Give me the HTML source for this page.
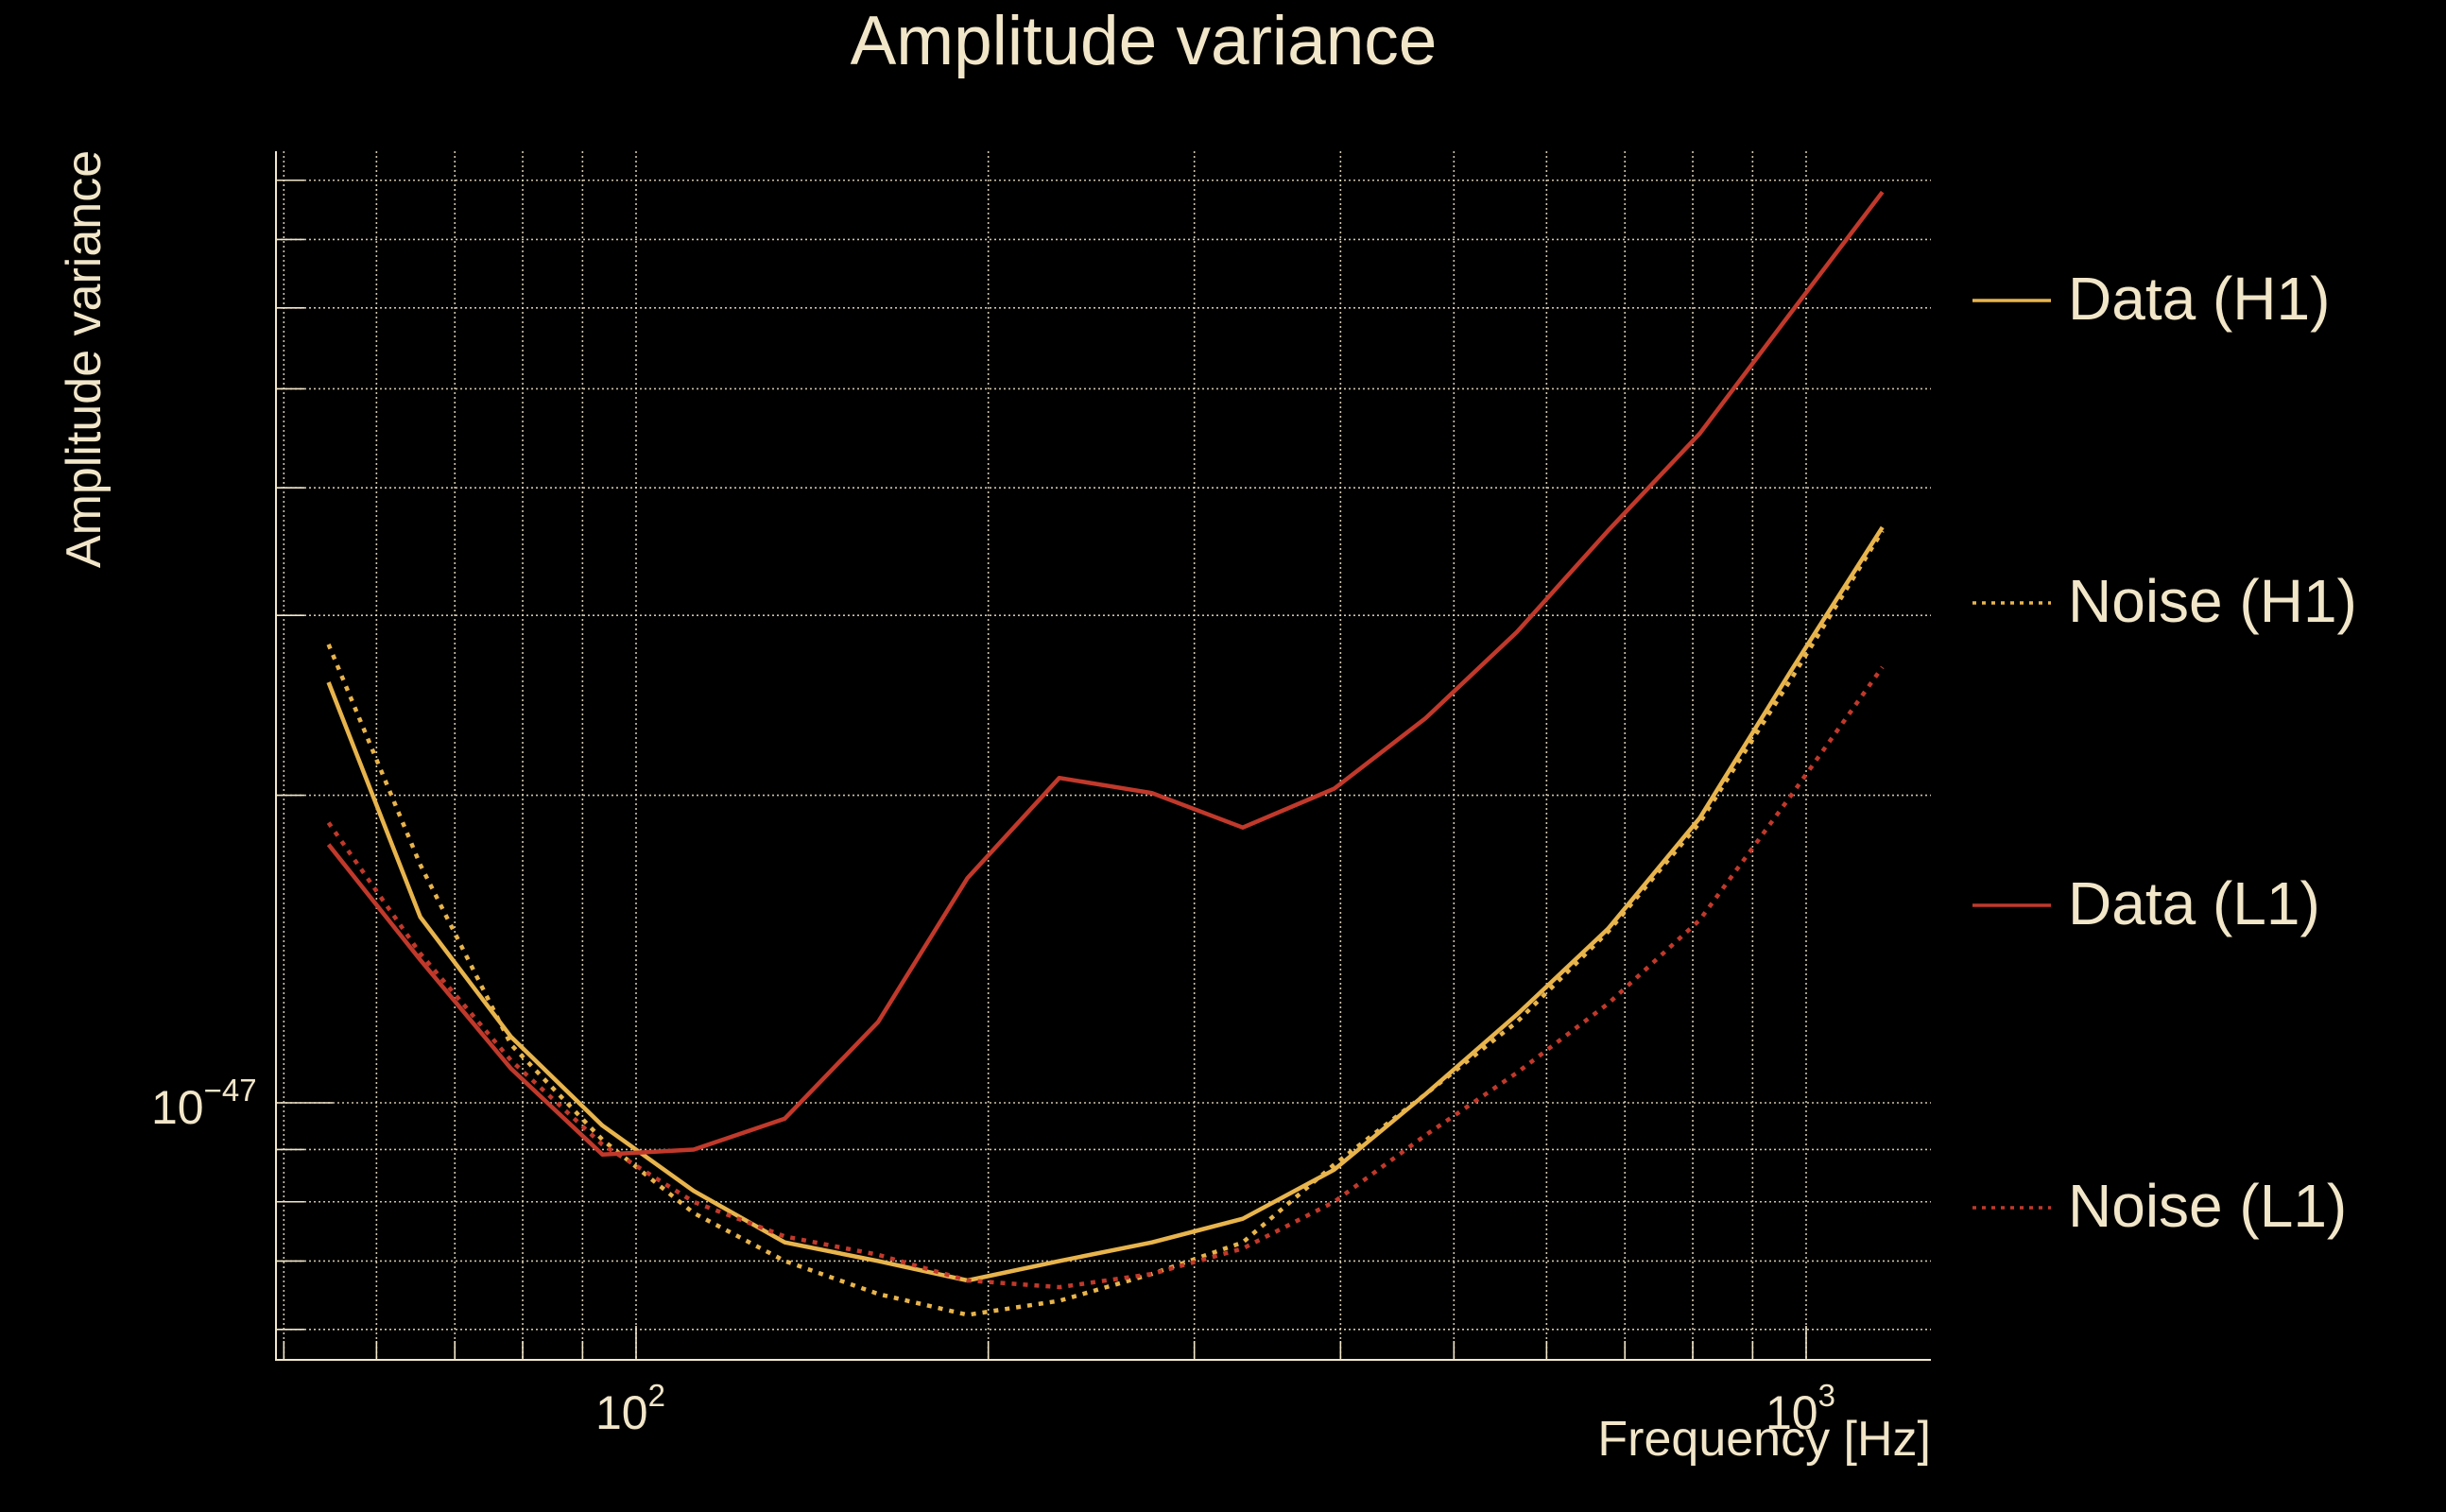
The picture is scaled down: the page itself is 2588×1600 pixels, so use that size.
<!DOCTYPE html>
<html><head><meta charset="utf-8">
<style>
html,body{margin:0;padding:0;background:#000;}
svg{display:block;}
text{font-family:"Liberation Sans",sans-serif;fill:#f2e6c9;}
</style></head>
<body>
<svg id="chart" width="2588" height="1600" viewBox="0 0 2588 1600" xmlns="http://www.w3.org/2000/svg">
<rect width="2588" height="1600" fill="#000"/>
<text x="1210" y="68" font-size="73" text-anchor="middle">Amplitude variance</text>
<text x="0" y="0" font-size="52" text-anchor="middle" transform="translate(106,380) rotate(-90)">Amplitude variance</text>
<text x="2043" y="1540" font-size="52" text-anchor="end">Frequency [Hz]</text>
<g id="grid"></g>
<g id="series"></g>
<g id="legend"></g>
</svg>
<script>
const freqs = [54.6, 65.4, 78.2, 93.6, 112, 134, 161, 192, 230, 276, 330, 395, 473, 566, 677, 811, 971, 1162];
const dataH1 = [25.8, 15.2, 11.6, 9.5, 8.2, 7.3, 7.0, 6.7, 7.0, 7.3, 7.7, 8.6, 10.2, 12.2, 14.8, 19.0, 26.5, 36.6];
const noiseH1 = [28.1, 17.1, 11.4, 9.2, 7.8, 7.0, 6.5, 6.2, 6.4, 6.8, 7.3, 8.7, 10.2, 12.0, 14.7, 18.8, 26.0, 36.3];
const dataL1 = [17.9, 13.8, 10.8, 8.9, 9.0, 9.65, 12.0, 16.6, 20.8, 20.1, 18.6, 20.3, 23.8, 28.9, 36.3, 45.2, 59.4, 77.9];
const noiseL1 = [18.8, 14.0, 11.0, 9.1, 8.0, 7.4, 7.1, 6.7, 6.6, 6.8, 7.2, 8.0, 9.3, 10.7, 12.5, 15.1, 20.0, 26.7];
const valueScale = 1e-48;
const xGridFreqs = [50, 60, 70, 80, 90, 100, 200, 300, 400, 500, 600, 700, 800, 900, 1000];
const yGridVals = [6e-48, 7e-48, 8e-48, 9e-48, 1e-47, 2e-47, 3e-47, 4e-47, 5e-47, 6e-47, 7e-47, 8e-47];
const xTickLabels = [{v:100, t:"2"}, {v:1000, t:"3"}];
const yTickLabels = [{v:1e-47, t:"\u221247"}];
const seriesNames = ["Data (H1)", "Noise (H1)", "Data (L1)", "Noise (L1)"];

const L=292, R=2043, T=160, B=1439;
const X0=673, XDEC=1238, Y0=1167, YDEC=1081;
function xs(f){ return X0 + XDEC*Math.log10(f/100); }
function ys(v){ return Y0 - YDEC*Math.log10(v/1e-47); }
const NS="http://www.w3.org/2000/svg";
function mk(tag, attrs, parent){ const e=document.createElementNS(NS,tag); for(const k in attrs) e.setAttribute(k, attrs[k]); parent.appendChild(e); return e; }

const grid=document.getElementById('grid');
const cream="#f2e6c9";
xGridFreqs.forEach(f=>{
  const x=xs(f);
  const g=mk('line',{x1:x,x2:x,y1:T,y2:B,stroke:cream,'stroke-width':1.6,'stroke-dasharray':'2 3','opacity':0.85},grid);
  
  
  const t=mk('line',{x1:x,x2:x,y1:B,y2:B-(f===100||f===1000?36:20),stroke:cream,'stroke-width':1.6},grid);
  
  
});
yGridVals.forEach(v=>{
  const y=ys(v);
  const g=mk('line',{x1:L,x2:R,y1:y,y2:y,stroke:cream,'stroke-width':1.6,'stroke-dasharray':'2 3','opacity':0.85},grid);
  
  
  const major=Math.abs(Math.log10(v)-Math.round(Math.log10(v)))<1e-6;
  const t=mk('line',{x1:L,x2:L+(major?60:30),y1:y,y2:y,stroke:cream,'stroke-width':1.6},grid);
  
  
});
const ax=mk('polyline',{points:`${L},${T} ${L},${B} ${R},${B}`,fill:'none',stroke:cream,'stroke-width':2},grid);


xTickLabels.forEach(o=>{
  const t=mk('text',{x:xs(o.v)-6,y:1512,'font-size':50,'text-anchor':'middle'},grid);
  
  
  t.textContent="10";
  const s=mk('tspan',{'font-size':33,dy:-24},t); s.textContent=o.t;
});
yTickLabels.forEach(o=>{
  const t=mk('text',{x:160,y:ys(o.v)+22,'font-size':50},grid);
  
  
  t.textContent="10";
  const s=mk('tspan',{'font-size':33,dy:-24},t); s.textContent=o.t;
});

const yellow="#e8b44c", red="#c0392b";
const allSeries=[dataH1,noiseH1,dataL1,noiseL1];
const colors=[yellow,yellow,red,red];
const dashed=[false,true,false,true];
const names=['series-data-h1','series-noise-h1','series-data-l1','series-noise-l1'];
const sg=document.getElementById('series');
allSeries.forEach((arr,i)=>{
  const pts=arr.map((v,j)=>xs(freqs[j]).toFixed(1)+","+ys(v*valueScale).toFixed(1)).join(" ");
  const attrs={points:pts,fill:'none',stroke:colors[i],'stroke-width':4.5,'stroke-linejoin':'round'};
  if(dashed[i]) attrs['stroke-dasharray']='5 7';
  const p=mk('polyline',attrs,sg);
  
  
});
const lg=document.getElementById('legend');
seriesNames.forEach((n,i)=>{
  const y=318+i*320;
  const g=mk('g',{},lg);
  
  
  const a={x1:2087,x2:2170,y1:y,y2:y,stroke:colors[i],'stroke-width':3.5};
  if(dashed[i]) a['stroke-dasharray']='4 6';
  const l=mk('line',a,g);
  
  
  const t=mk('text',{x:2188,y:y+20,'font-size':64},g);
  
  
  t.textContent=n;
});
</script>
</body></html>
